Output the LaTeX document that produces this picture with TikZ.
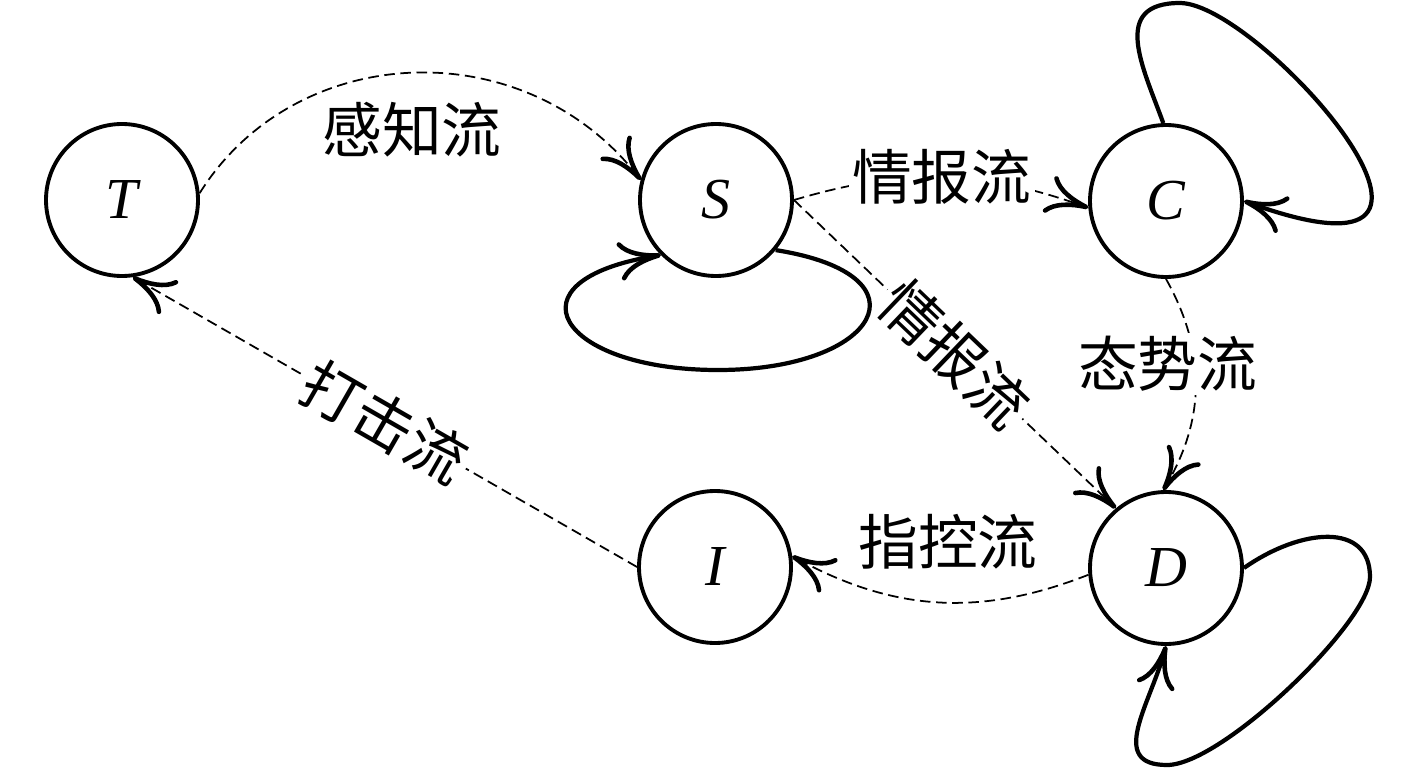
\documentclass[tikz,border=0pt]{standalone}
\usepackage{fontspec}
\setmainfont{Liberation Serif}
\newfontfamily\cjk{Noto Sans CJK SC}
\usetikzlibrary{arrows.meta}

\begin{document}
\begin{tikzpicture}[
  state/.style={
    draw, circle, line width=1.1pt, minimum size=1.52cm, inner sep=0pt,
    font=\fontsize{16.5}{16}\selectfont\itshape
  },
  flow/.style={
    line width=0.5pt, dash pattern=on 3pt off 1.6pt,
    -{Computer Modern Rightarrow[length=12pt, width=11pt, line width=1.3pt]}
  },
  selfloop/.style={
    line width=1.2pt,
    -{Computer Modern Rightarrow[length=12pt, width=11pt, line width=1.3pt]}
  },
  flowlabel/.style={font=\cjk\fontsize{17}{17}\selectfont, fill=white, inner sep=1pt},
]
\useasboundingbox (0,0) rectangle (14.17,7.70);

\node[state] (T) at (1.22,5.70) {T};
\node[state] (S) at (7.16,5.70) {S};
\node[state] (C) at (11.66,5.69) {C};
\node[state] (D) at (11.66,2.02) {D};
\node[state] (I) at (7.15,2.03) {I};

% turning points of the self loops
\coordinate (Sbot) at (7.18,4.00);
\coordinate (Ctop) at (11.80,7.67);
\coordinate (Dright) at (13.70,1.93);
\coordinate (Dbot) at (11.67,0.05);

% flows between nodes
\draw[flow] (T.5) .. controls +(58:1.8) and +(128:1.9) .. (S.165)
  node[flowlabel, pos=0.5, below=0.25cm] {感知流};
\draw[flow] (S.east) to[bend left=18] node[flowlabel] {情报流} (C.185);
\draw[flow] (S.east) -- node[flowlabel, sloped] {情报流} (D.130);
\draw[flow] (C.south) to[bend left=30]
  node[flowlabel, pos=0.4, xshift=-0.27cm] {态势流} (D.92);
\draw[flow] (D.185) to[bend left=25] node[flowlabel, above=0.28cm, xshift=0.1cm] {指控流} (I.8);
\draw[flow] (I.west) -- node[flowlabel, sloped] {打击流} (T.-82);

% self loops
\draw[selfloop] (S.-40) .. controls +(-9:1.6) and +(0:1.6) .. (Sbot)
  .. controls +(180:1.6) and +(189:1.6) .. (S.-135);
\draw[selfloop] (C.92) .. controls +(110:0.6) and +(180:0.7) .. (Ctop)
  .. controls +(0:0.8) and +(-20:3.0) .. (C.0);
\draw[selfloop] (D.0) .. controls +(35:0.7) and +(90:0.55) .. (Dright)
  .. controls +(-90:0.45) and +(0:0.55) .. (Dbot)
  .. controls +(180:0.6) and +(-105:0.6) .. (D.-90);

\end{tikzpicture}
\end{document}
